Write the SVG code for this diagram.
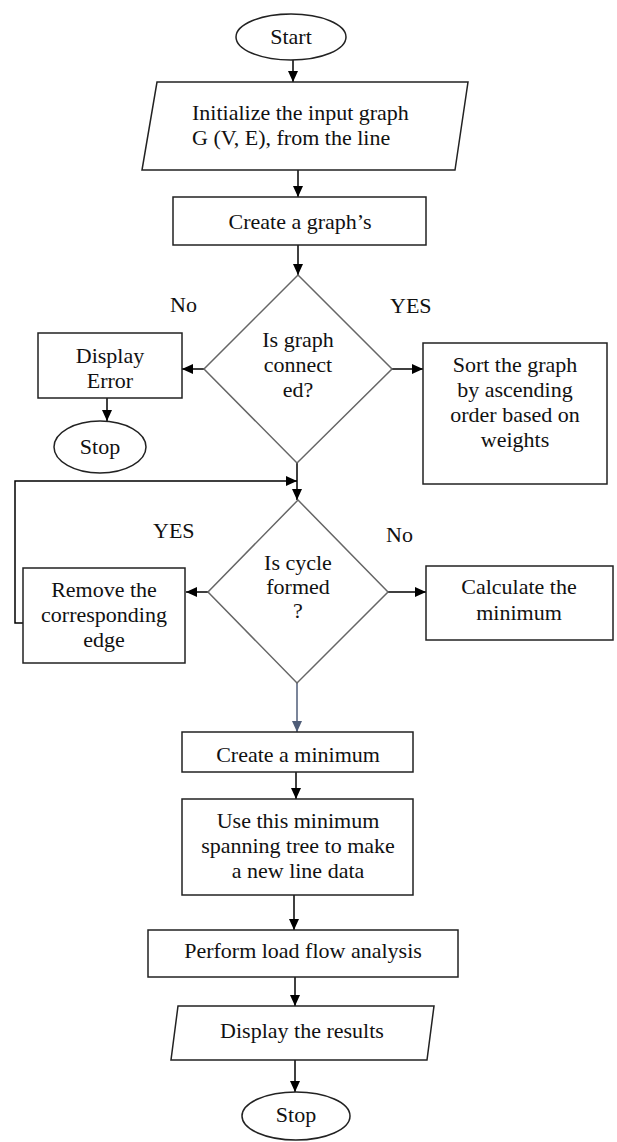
<svg xmlns="http://www.w3.org/2000/svg" width="617" height="1142" viewBox="0 0 617 1142" font-family="'Liberation Serif', 'Times New Roman', serif">
<defs>
<marker id="arr" markerUnits="userSpaceOnUse" markerWidth="12" markerHeight="12" refX="11" refY="5" orient="auto">
<path d="M0,0 L11,5 L0,10 Z" fill="#000"/>
</marker>
<marker id="arrb" markerUnits="userSpaceOnUse" markerWidth="12" markerHeight="12" refX="11" refY="5" orient="auto">
<path d="M0,0 L11,5 L0,10 Z" fill="#4f5d78"/>
</marker>
<style>
.box{fill:#fff;stroke:#222;stroke-width:1.5}
.dia{fill:#fff;stroke:#666;stroke-width:1.5}
text{font-family:'Liberation Serif','Times New Roman',serif;font-size:22px;fill:#111}
.t{text-anchor:middle}
.c{fill:none;stroke:#000;stroke-width:1.5}
</style>
</defs>
<g id="connectors">
<line class="c" x1="293" y1="60" x2="293" y2="82" marker-end="url(#arr)"/>
<line class="c" x1="298" y1="170" x2="298" y2="197" marker-end="url(#arr)"/>
<line class="c" x1="298" y1="245" x2="298" y2="275" marker-end="url(#arr)"/>
<line class="c" x1="204" y1="369" x2="182" y2="369" marker-end="url(#arr)"/>
<line class="c" x1="392" y1="369" x2="423" y2="369" marker-end="url(#arr)"/>
<line class="c" x1="107" y1="398" x2="107" y2="421" marker-end="url(#arr)"/>
<line class="c" x1="297" y1="463" x2="297" y2="500" marker-end="url(#arr)"/>
<polyline class="c" points="23,623 15,623 15,481 297,481" marker-end="url(#arr)"/>
<line class="c" x1="208" y1="592" x2="186" y2="592" marker-end="url(#arr)"/>
<line class="c" x1="388" y1="592" x2="426" y2="592" marker-end="url(#arr)"/>
<line x1="297" y1="683" x2="297" y2="732" stroke="#4f5d78" stroke-width="1.5" marker-end="url(#arrb)"/>
<line class="c" x1="296" y1="772" x2="296" y2="799" marker-end="url(#arr)"/>
<line class="c" x1="294" y1="895" x2="294" y2="930" marker-end="url(#arr)"/>
<line class="c" x1="295" y1="977" x2="295" y2="1006" marker-end="url(#arr)"/>
<line class="c" x1="295" y1="1060" x2="295" y2="1092" marker-end="url(#arr)"/>
</g>
<g id="start">
<ellipse class="box" cx="291" cy="37" rx="55" ry="23"/>
<text class="t" x="291" y="44">Start</text>
</g>
<g id="init">
<polygon class="box" points="157,82 468,82 455,170 142,170"/>
<text x="192" y="120">Initialize the input graph</text>
<text x="192" y="145">G (V, E), from the line</text>
</g>
<g id="create-graph">
<rect class="box" x="173" y="197" width="253" height="48"/>
<text class="t" x="300" y="229">Create a graph’s</text>
</g>
<g id="connected">
<polygon class="dia" points="298,275 392,369 297,463 204,369"/>
<text class="t" x="298" y="347">Is graph</text>
<text class="t" x="298" y="372">connect</text>
<text class="t" x="298" y="397">ed?</text>
</g>
<g id="labels">
<text x="170" y="312">No</text>
<text x="390" y="313">YES</text>
<text x="153" y="538">YES</text>
<text x="386" y="542">No</text>
</g>
<g id="display-error">
<rect class="box" x="38" y="333" width="144" height="65"/>
<text class="t" x="110" y="363">Display</text>
<text class="t" x="110" y="388">Error</text>
</g>
<g id="stop1">
<ellipse class="box" cx="100" cy="447" rx="46" ry="26"/>
<text class="t" x="100" y="454">Stop</text>
</g>
<g id="sort">
<rect class="box" x="423" y="343" width="184" height="141"/>
<text class="t" x="515" y="372">Sort the graph</text>
<text class="t" x="515" y="397">by ascending</text>
<text class="t" x="515" y="422">order based on</text>
<text class="t" x="515" y="447">weights</text>
</g>
<g id="cycle">
<polygon class="dia" points="298,500 388,592 297,683 208,592"/>
<text class="t" x="298" y="570">Is cycle</text>
<text class="t" x="298" y="594">formed</text>
<text class="t" x="298" y="618">?</text>
</g>
<g id="remove">
<rect class="box" x="23" y="568" width="162" height="95"/>
<text class="t" x="104" y="597">Remove the</text>
<text class="t" x="104" y="622">corresponding</text>
<text class="t" x="104" y="647">edge</text>
</g>
<g id="calculate">
<rect class="box" x="426" y="566" width="187" height="74"/>
<text class="t" x="519" y="594">Calculate the</text>
<text class="t" x="519" y="620">minimum</text>
</g>
<g id="create-min">
<rect class="box" x="182" y="732" width="231" height="40"/>
<text class="t" x="298" y="762">Create a minimum</text>
</g>
<g id="use-mst">
<rect class="box" x="182" y="799" width="231" height="96"/>
<text class="t" x="298" y="828">Use this minimum</text>
<text class="t" x="298" y="853">spanning tree to make</text>
<text class="t" x="298" y="878">a new line data</text>
</g>
<g id="load-flow">
<rect class="box" x="148" y="930" width="310" height="47"/>
<text class="t" x="303" y="958">Perform load flow analysis</text>
</g>
<g id="display-results">
<polygon class="box" points="178,1006 434,1006 427,1060 171,1060"/>
<text class="t" x="302" y="1038">Display the results</text>
</g>
<g id="stop2">
<ellipse class="box" cx="296" cy="1116" rx="54" ry="24"/>
<text class="t" x="296" y="1122">Stop</text>
</g>
</svg>
